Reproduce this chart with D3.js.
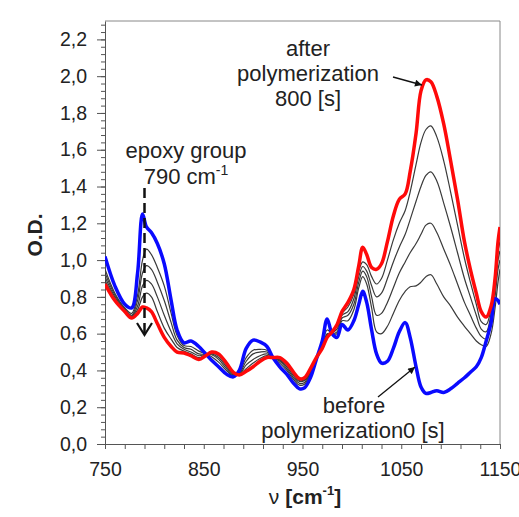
<!DOCTYPE html>
<head>
	<meta charset="utf-8">
	<title>Epoxy band during polymerization</title>
	<script src="https://cdnjs.cloudflare.com/ajax/libs/d3/7.8.5/d3.min.js"></script>
	<style>
		body { margin: 0; background: #fff; }
		svg text { font-family: "Liberation Sans", Arial, sans-serif; fill: #222; }
		.axis path, .axis line { stroke: #555; }
		.axis text { font-size: 19.5px; fill: #222; }
		.frame { fill: none; stroke: #888; stroke-width: 1px; }
		.note { font-size: 22px; }
		.title { font-size: 21px; font-weight: bold; }
	</style>
</head>
<body>
<div id="viz"></div>
<script>
// wavenumber grid (cm-1)
var nu = [750,760,770,777,783,788,792,797,803,810,817,823,830,837,845,852,858,865,873,880,
	886,893,900,907,914,920,927,934,941,947,952,958,964,970,975,980,985,990,996,1002,
	1007,1011,1015,1020,1025,1030,1036,1042,1048,1054,1059,1065,1070,1075,1080,1086,1093,1100,1107,1114,
	1120,1126,1131,1136,1141,1145,1148,1150];

// O.D. before polymerization, 0 s (blue)
var odBefore = [1.02,0.86,0.76,0.74,0.93,1.25,1.18,1.15,1.09,0.98,0.78,0.62,0.55,0.56,0.53,0.49,0.455,0.42,0.38,0.365,
	0.40,0.52,0.565,0.555,0.53,0.47,0.42,0.38,0.33,0.30,0.305,0.36,0.46,0.56,0.68,0.60,0.58,0.65,0.62,0.67,
	0.76,0.83,0.77,0.62,0.49,0.44,0.45,0.52,0.61,0.66,0.58,0.42,0.31,0.275,0.28,0.29,0.28,0.30,0.33,0.36,
	0.39,0.42,0.47,0.56,0.66,0.79,0.78,0.76];

// intermediate spectra (thin dark lines)
var od160 = [0.95,0.82,0.74,0.71,0.81,1.00,1.06,1.03,0.96,0.86,0.71,0.59,0.535,0.53,0.505,0.49,0.475,0.445,0.40,0.37,
	0.39,0.47,0.51,0.515,0.51,0.47,0.44,0.40,0.35,0.32,0.325,0.38,0.465,0.545,0.62,0.60,0.60,0.67,0.67,0.73,
	0.85,0.91,0.87,0.74,0.61,0.60,0.64,0.71,0.78,0.83,0.855,0.86,0.88,0.91,0.92,0.87,0.80,0.75,0.69,0.64,
	0.60,0.56,0.54,0.53,0.60,0.74,0.88,0.95];
var od320 = [0.93,0.81,0.735,0.70,0.78,0.93,0.97,0.95,0.88,0.78,0.66,0.565,0.525,0.515,0.49,0.488,0.485,0.46,0.41,0.375,
	0.385,0.45,0.49,0.50,0.50,0.47,0.45,0.41,0.36,0.33,0.335,0.39,0.465,0.535,0.60,0.60,0.61,0.685,0.70,0.76,
	0.88,0.94,0.91,0.80,0.70,0.71,0.77,0.85,0.93,0.99,1.04,1.09,1.14,1.19,1.20,1.15,1.06,0.97,0.87,0.77,
	0.70,0.63,0.585,0.57,0.66,0.80,0.95,1.00];
var od480 = [0.91,0.80,0.73,0.695,0.75,0.86,0.89,0.87,0.80,0.70,0.61,0.545,0.515,0.50,0.48,0.487,0.49,0.47,0.42,0.38,
	0.38,0.43,0.46,0.48,0.49,0.47,0.455,0.42,0.37,0.34,0.345,0.395,0.465,0.53,0.595,0.605,0.625,0.70,0.72,0.79,
	0.91,0.965,0.94,0.86,0.80,0.82,0.90,0.99,1.07,1.14,1.22,1.32,1.40,1.46,1.48,1.43,1.31,1.18,1.04,0.90,
	0.80,0.70,0.625,0.61,0.71,0.85,1.00,1.05];
var od640 = [0.89,0.79,0.725,0.69,0.73,0.80,0.82,0.80,0.72,0.63,0.57,0.525,0.505,0.49,0.47,0.486,0.495,0.48,0.43,0.385,
	0.378,0.41,0.44,0.465,0.48,0.47,0.46,0.43,0.38,0.345,0.35,0.40,0.468,0.525,0.59,0.61,0.64,0.71,0.745,0.815,
	0.94,0.99,0.975,0.91,0.87,0.90,1.00,1.11,1.20,1.27,1.37,1.52,1.64,1.71,1.73,1.67,1.54,1.37,1.19,1.01,
	0.88,0.76,0.665,0.65,0.74,0.88,1.05,1.10];

// O.D. after polymerization, 800 s (red)
var odAfter = [0.87,0.78,0.72,0.685,0.71,0.745,0.74,0.72,0.655,0.58,0.53,0.50,0.495,0.48,0.46,0.48,0.50,0.49,0.44,0.39,
	0.375,0.395,0.42,0.45,0.47,0.47,0.47,0.44,0.39,0.355,0.36,0.41,0.47,0.52,0.58,0.61,0.65,0.72,0.77,0.84,
	0.97,1.07,1.03,0.96,0.95,0.98,1.10,1.24,1.33,1.36,1.48,1.69,1.92,1.98,1.97,1.89,1.74,1.54,1.33,1.10,
	0.95,0.82,0.72,0.69,0.75,0.90,1.10,1.18];

var xTickLabels = [750, 850, 950, 1050, 1150];
var yTickLabels = [0, 0.2, 0.4, 0.6, 0.8, 1.0, 1.2, 1.4, 1.6, 1.8, 2.0, 2.2];

var width = 519, height = 517;
var plot = {left: 105, right: 500, top: 21, bottom: 444};

var svg = d3.select("#viz").append("svg")
	.attr("width", width)
	.attr("height", height);

var x = d3.scaleLinear().domain([750, 1150]).range([plot.left, plot.right]);
var y = d3.scaleLinear().domain([0, 2.3]).range([plot.bottom, plot.top]);

var comma = function(d) { return d3.format(".1f")(d).replace(".", ","); };

// frame top and right
svg.append("path")
	.attr("class", "frame")
	.attr("d", "M" + plot.left + "," + plot.top + "H" + plot.right + "V" + plot.bottom);

// y axis: minor ticks every 0.04, labelled every 0.2
svg.append("g")
	.attr("class", "axis")
	.attr("transform", "translate(" + plot.left + ",0)")
	.call(d3.axisLeft(y).tickValues(d3.range(0, 2.29, 0.04)).tickSize(4).tickFormat("").tickSizeOuter(0));
svg.append("g")
	.attr("class", "axis")
	.attr("transform", "translate(" + plot.left + ",0)")
	.call(d3.axisLeft(y).tickValues(yTickLabels).tickSize(8).tickPadding(10).tickFormat(comma).tickSizeOuter(0))
	.select(".domain").remove();

// x axis: ticks every 20 cm-1
svg.append("g")
	.attr("class", "axis")
	.attr("transform", "translate(0," + plot.bottom + ")")
	.call(d3.axisBottom(x).tickValues(d3.range(750, 1151, 20)).tickSize(5).tickPadding(13).tickSizeOuter(0)
		.tickFormat(function(d) { return xTickLabels.indexOf(d) >= 0 ? d : ""; }));

// spectra
svg.append("clipPath").attr("id", "clip")
	.append("rect")
	.attr("x", plot.left).attr("y", plot.top)
	.attr("width", plot.right - plot.left).attr("height", plot.bottom - plot.top);

var line = d3.line()
	.x(function(d) { return x(d[0]); })
	.y(function(d) { return y(d[1]); })
	.curve(d3.curveCatmullRom.alpha(0.5));

var series = [
	{vals: od160, color: "#3a3a3a", w: 1.2},
	{vals: od320, color: "#3a3a3a", w: 1.2},
	{vals: od480, color: "#3a3a3a", w: 1.2},
	{vals: od640, color: "#3a3a3a", w: 1.2},
	{vals: odBefore, color: "#0a0aff", w: 3.5},
	{vals: odAfter, color: "#ff0a0a", w: 3.5}
];

svg.append("g").attr("clip-path", "url(#clip)")
	.selectAll("path")
	.data(series)
	.enter().append("path")
	.attr("d", function(s) { return line(d3.zip(nu, s.vals)); })
	.attr("fill", "none")
	.attr("stroke", function(s) { return s.color; })
	.attr("stroke-width", function(s) { return s.w; })
	.attr("stroke-linejoin", "round");

// arrow heads
var defs = svg.append("defs");
defs.append("marker")
	.attr("id", "head")
	.attr("viewBox", "0 0 10 10")
	.attr("refX", 10).attr("refY", 5)
	.attr("markerWidth", 9).attr("markerHeight", 7)
	.attr("markerUnits", "userSpaceOnUse")
	.attr("orient", "auto")
	.append("path").attr("d", "M0,0L10,5L0,10Z").attr("fill", "#111");

// epoxy group label and dashed arrow at 790 cm-1
svg.append("text").attr("class", "note")
	.attr("x", 186).attr("y", 158).attr("text-anchor", "middle")
	.text("epoxy group");
var t790 = svg.append("text").attr("class", "note")
	.attr("x", 186).attr("y", 184).attr("text-anchor", "middle");
t790.append("tspan").text("790 cm");
t790.append("tspan").attr("font-size", 14).attr("dy", -9).text("-1");

svg.append("line")
	.attr("x1", x(790)).attr("x2", x(790))
	.attr("y1", 188).attr("y2", 333)
	.attr("stroke", "#111").attr("stroke-width", 2.5)
	.attr("stroke-dasharray", "10,5");
svg.append("path")
	.attr("d", "M" + (x(790) - 7.5) + ",323L" + x(790) + ",335L" + (x(790) + 7.5) + ",323")
	.attr("fill", "none").attr("stroke", "#111").attr("stroke-width", 2.2);

// after polymerization
svg.append("text").attr("class", "note").attr("x", 308).attr("y", 56).attr("text-anchor", "middle").text("after");
svg.append("text").attr("class", "note").attr("x", 308).attr("y", 81).attr("text-anchor", "middle").text("polymerization");
svg.append("text").attr("class", "note").attr("x", 308).attr("y", 106).attr("text-anchor", "middle").text("800 [s]");
svg.append("line")
	.attr("x1", 393).attr("y1", 77).attr("x2", 422).attr("y2", 85)
	.attr("stroke", "#111").attr("stroke-width", 1.3)
	.attr("marker-end", "url(#head)");

// before polymerization
svg.append("text").attr("class", "note").attr("x", 354).attr("y", 413).attr("text-anchor", "middle").text("before");
svg.append("text").attr("class", "note").attr("x", 353).attr("y", 438).attr("text-anchor", "middle").text("polymerization0 [s]");
svg.append("line")
	.attr("x1", 378).attr("y1", 397).attr("x2", 415).attr("y2", 367)
	.attr("stroke", "#111").attr("stroke-width", 1.3)
	.attr("marker-end", "url(#head)");

// axis titles
svg.append("text").attr("class", "title")
	.attr("transform", "translate(42,235) rotate(-90)")
	.attr("text-anchor", "middle")
	.text("O.D.");
var xt = svg.append("text").attr("class", "title")
	.attr("x", 305).attr("y", 504).attr("text-anchor", "middle");
xt.append("tspan").attr("font-weight", "normal").text("\u03bd ");
xt.append("tspan").text("[cm");
xt.append("tspan").attr("font-size", 13).attr("dy", -9).text("-1");
xt.append("tspan").attr("dy", 9).text("]");
</script>
</body>
</html>
